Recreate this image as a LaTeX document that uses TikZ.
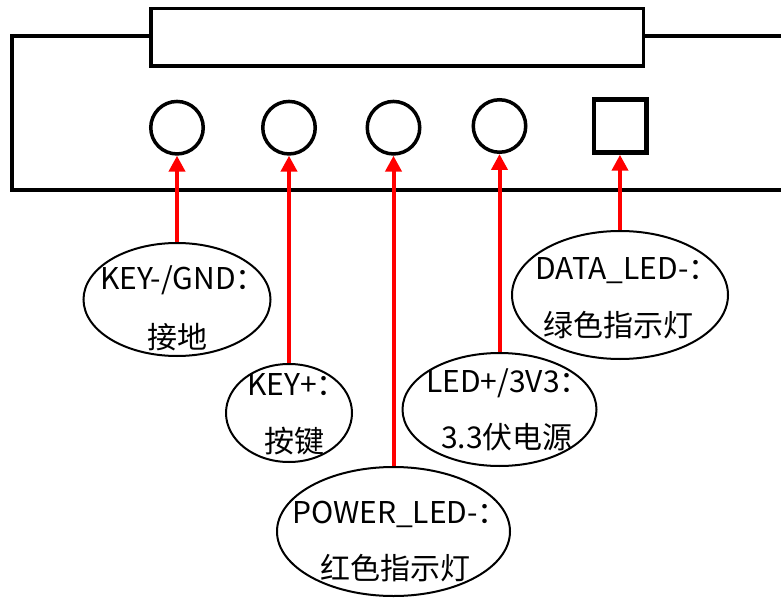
\documentclass[tikz,border=0pt]{standalone}
\usepackage{fontspec}
\setmainfont{Noto Sans CJK SC}
\usetikzlibrary{shapes.geometric,arrows.meta}
\definecolor{PinRed}{rgb}{1.0,0.0,0.0}

\begin{document}
\begin{tikzpicture}[x=1pt,y=-1pt,
  port/.style={draw,circle,line width=3.5pt,minimum size=52.5pt,inner sep=0pt},
  pad/.style={draw,rectangle,line width=4.5pt,minimum width=52.5pt,minimum height=53pt,inner sep=0pt},
  tag/.style={draw,ellipse,line width=2pt,inner sep=0pt},
  txt/.style={anchor=base,inner sep=0pt,font=\fontsize{30}{30}\selectfont},
  pin/.style={draw=PinRed,line width=4pt,-{Triangle[width=16pt,length=16pt]}}]
\useasboundingbox (0,0) rectangle (781,601);

% board outline and header
\draw[line width=4pt] (790,35.7) -- (12,35.7) -- (12,190.3) -- (790,190.3);
\draw[line width=3.4pt,fill=white] (151,8.5) rectangle (643.5,66);

% pins
\node[port] (p1) at (177,127.7) {};
\node[port] (p2) at (289,127.7) {};
\node[port] (p3) at (393.5,127.7) {};
\node[port] (p4) at (499.5,126) {};
\node[pad]  (p5) at (620,126) {};

% labels
\node[tag,minimum width=187pt,minimum height=113pt] (gnd) at (177,299.5) {};
\node[tag,minimum width=126pt,minimum height=98pt]  (key) at (289,413) {};
\node[tag,minimum width=233pt,minimum height=129pt] (pwr) at (393.5,531.5) {};
\node[tag,minimum width=194pt,minimum height=113pt] (vcc) at (499.5,409.5) {};
\node[tag,minimum width=216pt,minimum height=128pt] (dat) at (620,295) {};

\node[txt] (gndA) at (183,290) {KEY-/GND：};
\node[txt] (gndB) at (177,348) {接地};
\node[txt] (keyA) at (297,395) {KEY+：};
\node[txt] (keyB) at (294,452) {按键};
\node[txt] (pwrA) at (400,523) {POWER\_LED-：};
\node[txt] (pwrB) at (395,579) {红色指示灯};
\node[txt] (vccA) at (508,392) {LED+/3V3：};
\node[txt] (vccB) at (507,448) {3.3伏电源};
\node[txt] (datA) at (627,280) {DATA\_LED-：};
\node[txt] (datB) at (618,337) {绿色指示灯};

\draw[pin] (gnd.north) -- (p1.south);
\draw[pin] (key.north) -- (p2.south);
\draw[pin] (pwr.north) -- (p3.south);
\draw[pin] (vcc.north) -- (p4.south);
\draw[pin] (dat.north) -- (p5.south);
\end{tikzpicture}
\end{document}
